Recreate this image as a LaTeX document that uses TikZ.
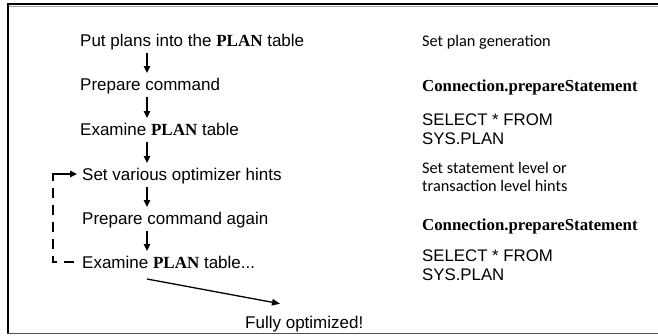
\documentclass[tikz,border=0pt]{standalone}
\usepackage{fontspec}
\setmainfont{Liberation Sans}
\newfontfamily\tmsfont{Liberation Serif}
\newfontfamily\calfont{Carlito}
\usetikzlibrary{calc,arrows.meta}
\newcommand{\plan}{{\tmsfont\bfseries PLAN}}
\tikzset{
  stepbox/.style={anchor=west,inner sep=0pt,text height=12.2pt,text depth=0pt,font=\fontsize{17}{18}\selectfont},
  notebox/.style={anchor=west,inner sep=0pt,text height=12.2pt,text depth=0pt,font=\calfont\fontsize{16.3}{18}\selectfont},
  apibox/.style={anchor=west,inner sep=0pt,text height=12.2pt,text depth=0pt,font=\tmsfont\bfseries\fontsize{16.8}{18}\selectfont},
  sqlbox/.style={anchor=north west,inner sep=0pt,align=left,font=\fontsize{16.8}{18.5}\selectfont},
  arr/.style={-{Triangle[length=7pt,width=6.5pt]},line width=1.3pt},
  loopline/.style={line width=1.2pt,dash pattern=on 10pt off 7pt},
}
\begin{document}
\begin{tikzpicture}[x=1pt,y=-1pt]
\useasboundingbox (0,0) rectangle (658,335);
% frame
\draw[gray!70,line width=1.5pt] (9,6.3) -- (658,6.3);
\draw[line width=1.8pt] (7,4.3) -- (658,4.3);
\draw[line width=1.8pt] (7.8,3.4) -- (7.8,334);
\draw[gray!60!black,line width=1.5pt] (7,333.3) -- (658,333.3);
% left column
\coordinate (ax) at (147,0);
\node[stepbox] (p1) at (80,40) {Put plans into the \plan\ table};
\node[stepbox] (p2) at (80,84) {Prepare command};
\node[stepbox] (p3) at (80,129) {Examine \plan\ table};
\node[stepbox] (p4) at (82,174) {Set various optimizer hints};
\node[stepbox] (p5) at (82,218) {Prepare command again};
\node[stepbox] (p6) at (82,262) {Examine \plan\ table...};
\node[stepbox] (p7) at (245,322) {Fully optimized!};
\draw[arr] ($(ax |- p1.west)+(0,13)$) -- ($(ax |- p2.west)+(0,-11)$);
\draw[arr] ($(ax |- p2.west)+(0,13)$) -- ($(ax |- p3.west)+(0,-11)$);
\draw[arr] ($(ax |- p3.west)+(0,13)$) -- ($(ax |- p4.west)+(0,-11)$);
\draw[arr] ($(ax |- p4.west)+(0,13)$) -- ($(ax |- p5.west)+(0,-11)$);
\draw[arr] ($(ax |- p5.west)+(0,13)$) -- ($(ax |- p6.west)+(0,-11)$);
\draw[-{Triangle[length=8pt,width=6.5pt]},line width=1.3pt] ($(ax |- p6.west)+(0,17)$) -- ($(p7.north west)+(35,-12)$);
% feedback loop
\coordinate (lp) at (53,0);
\draw[loopline] ($(p6.west)+(-8,0)$) -- (lp |- p6.west) -- (lp |- p4.west);
\draw[line width=1.2pt,-{Triangle[length=7pt,width=6.5pt]}] ($(lp |- p4.west)+(0,6)$) -- (lp |- p4.west) -- ($(p4.west)+(-5,0)$);
% right column
\node[notebox] (r1) at (422,40) {Set plan generation};
\node[apibox] (r2) at (422,85) {Connection.prepareStatement};
\node[sqlbox] (r3) at (422,114) {SELECT * FROM\\SYS.PLAN};
\node[anchor=north west,inner sep=0pt,align=left,font=\calfont\fontsize{16.3}{18}\selectfont] (r4) at (422,162) {Set statement level or\\transaction level hints};
\node[apibox] (r5) at (422,224) {Connection.prepareStatement};
\node[sqlbox] (r6) at (422,250) {SELECT * FROM\\SYS.PLAN};
\end{tikzpicture}
\end{document}
